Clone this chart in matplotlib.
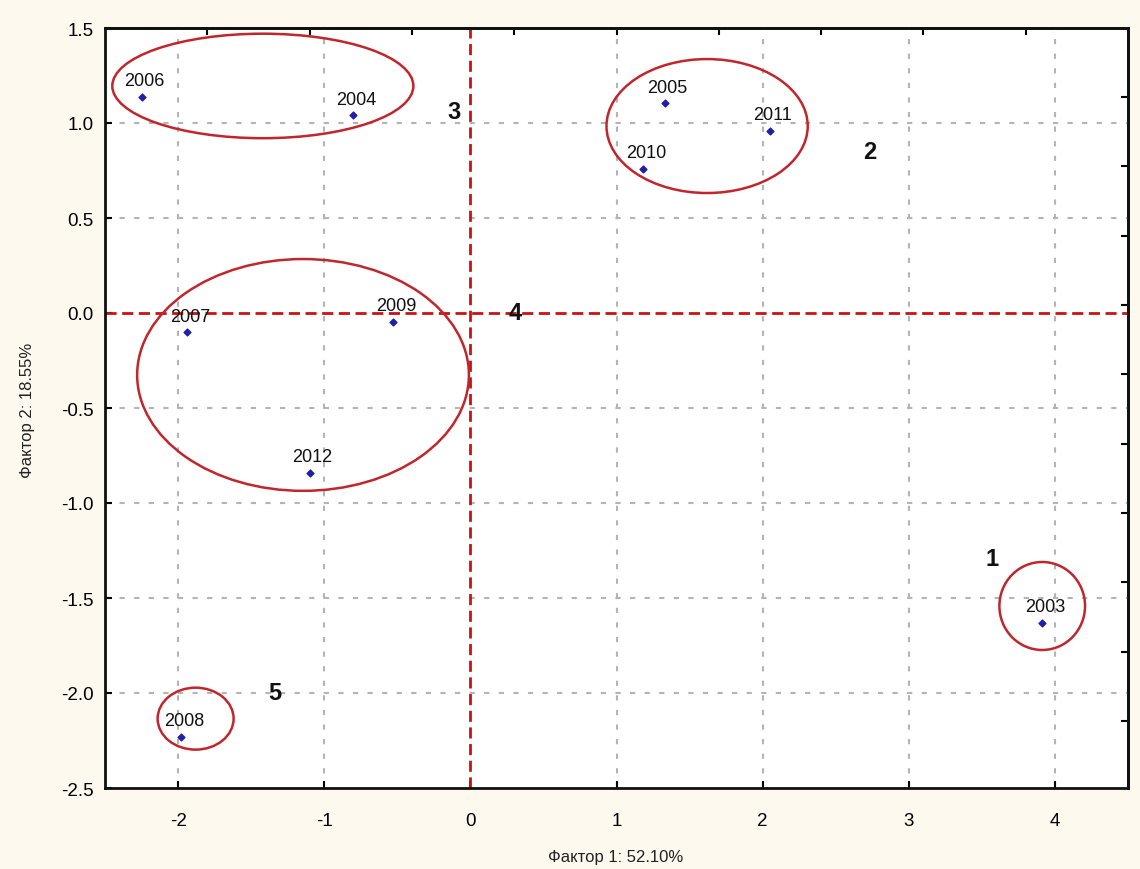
import matplotlib
matplotlib.use("Agg")
import matplotlib.pyplot as plt
from matplotlib.patches import Ellipse
import numpy as np

plt.rcParams['font.family'] = ['Liberation Sans', 'DejaVu Sans']

# ---- data ----
years = ["2003", "2004", "2005", "2006", "2007", "2008", "2009", "2010", "2011", "2012"]
factor1 = [3.91, -0.80, 1.33, -2.25, -1.94, -1.98, -0.53, 1.18, 2.05, -1.10]
factor2 = [-1.63, 1.04, 1.105, 1.137, -0.10, -2.23, -0.047, 0.76, 0.96, -0.84]

# cluster ellipses: centre x, centre y, width, height
ell_cx = [3.913, 1.62, -1.42, -1.145, -1.88]
ell_cy = [-1.542, 0.984, 1.195, -0.326, -2.135]
ell_w = [0.586, 1.377, 2.06, 2.27, 0.52]
ell_h = [0.463, 0.705, 0.55, 1.22, 0.326]

# cluster number labels
cl_names = ["1", "2", "3", "4", "5"]
cl_x = [3.57, 2.73, -0.11, 0.31, -1.34]
cl_y = [-1.29, 0.85, 1.06, 0.0, -2.0]

xticks = [-2, -1, 0, 1, 2, 3, 4]
yticks = [-2.5, -2.0, -1.5, -1.0, -0.5, 0.0, 0.5, 1.0, 1.5]

xlabel = "Фактор 1: 52.10%"
ylabel = "Фактор 2: 18.55%"

# ---- figure ----
fig = plt.figure(figsize=(11.4, 8.7), dpi=100, facecolor="#FDF9EE")
ax = fig.add_axes([105/1140, 1-789/870, (1128-105)/1140, (789-29)/870])
ax.set_facecolor("white")
ax.set_xlim(-2.5, 4.5)
ax.set_ylim(-2.5, 1.5)

# grid
for gx in [-2, -1, 1, 2, 3, 4]:
    ax.axvline(gx, color="#B4B4B4", lw=1.5, ls=(0, (2.5, 4.5)), zorder=1)
for gy in [-2.0, -1.5, -1.0, -0.5, 0.5, 1.0]:
    ax.axhline(gy, color="#B4B4B4", lw=1.5, ls=(0, (2.5, 4.5)), zorder=1)

# red zero lines
ax.axvline(0, color="#CC1111", lw=2.0, ls=(0, (4, 2)), zorder=2)
ax.axhline(0, color="#CC1111", lw=2.0, ls=(0, (4, 2)), zorder=2)

# ellipses
for cx, cy, w, h in zip(ell_cx, ell_cy, ell_w, ell_h):
    ax.add_patch(Ellipse((cx, cy), w, h, fill=False, edgecolor="#C0262B", lw=1.8, zorder=3))

# points
ax.scatter(factor1, factor2, marker="D", s=12, color="#1E1EA8", zorder=4)
for yr, x, y in zip(years, factor1, factor2):
    ax.annotate(yr, (x, y), xytext=(3, 16), textcoords="offset pixels",
                ha="center", va="center", fontsize=13, color="#111111", zorder=5)

# cluster numbers
for n, x, y in zip(cl_names, cl_x, cl_y):
    ax.text(x, y, n, ha="center", va="center", fontsize=17, fontweight="bold",
            color="#111111", zorder=5)

# ticks
ax.set_xticks(xticks)
ax.set_xticklabels([str(t) for t in xticks])
ax.set_yticks(yticks)
ax.set_yticklabels([f"{t:.1f}" for t in yticks])
ax.tick_params(axis="x", direction="in", length=5, width=1.5, pad=17, labelsize=13.5)
ax.tick_params(axis="y", direction="in", length=5, width=1.5, pad=8, labelsize=13.5)

# secondary ticks on top and right (unlabelled)
top = ax.secondary_xaxis("top")
top.set_xticks([1 + 0.7 * k for k in range(-4, 5)])
top.set_xticklabels([])
top.tick_params(direction="in", length=5, width=1.5)
right = ax.secondary_yaxis("right")
right.set_yticks([1.137 - 0.365 * k for k in range(10)])
right.set_yticklabels([])
right.tick_params(direction="in", length=5, width=1.5)

for s in list(ax.spines.values()) + list(top.spines.values()) + list(right.spines.values()):
    s.set_linewidth(2.0)
    s.set_color("#111111")

fig.text(616/1140, 1-858/870, xlabel, ha="center", va="center", fontsize=12, color="#222222")
fig.text(28/1140, 1-410/870, ylabel, ha="center", va="center", rotation=90, fontsize=12, color="#222222")

fig.savefig("out.png", dpi=100, facecolor=fig.get_facecolor())
